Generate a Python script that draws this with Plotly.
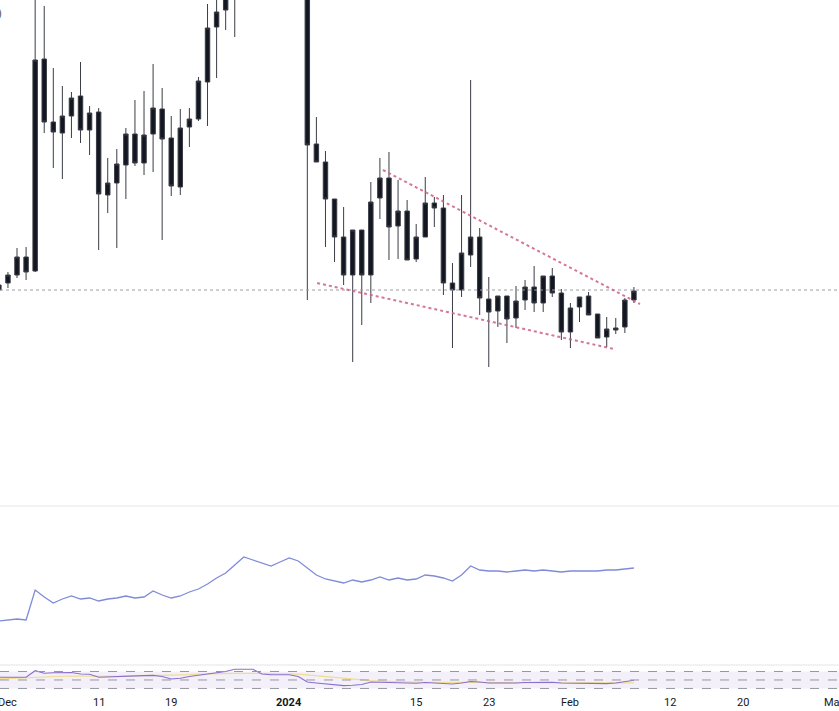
import pandas as pd
import plotly.graph_objects as go
from plotly.subplots import make_subplots

# ---------------- data ----------------
dates = pd.date_range("2023-11-30", periods=71, freq="D")

opens = [310, 317, 325, 343, 329, 541, 478, 467, 484, 504, 470, 488, 405, 417, 435, 466, 437, 466, 491, 462,
         413, 473, 481, 518, 573, 590, 620, 660, 670, 690, 680, 660, 675, 685, 625, 456, 438, 401, 363, 325,
         370, 325, 402, 422, 374, 389, 341, 363, 397, 392, 317, 310, 345, 363, 301, 289, 304, 282, 300, 313,
         297, 324, 307, 268, 293, 304, 286, 263, 270, 273, 300]
highs = [317, 328, 352, 353, 630, 594, 532, 514, 508, 538, 494, 492, 442, 451, 472, 500, 509, 536, 512, 484,
         491, 492, 523, 596, 610, 630, 680, 700, 720, 710, 695, 705, 715, 700, 640, 483, 449, 401, 393, 370,
         370, 418, 442, 448, 420, 400, 376, 423, 403, 405, 337, 405, 520, 372, 323, 304, 304, 314, 320, 334,
         324, 332, 311, 297, 303, 308, 286, 283, 282, 302, 313]
lows = [308, 312, 322, 320, 328, 467, 432, 421, 462, 457, 445, 350, 387, 352, 401, 434, 425, 428, 360, 404,
        405, 453, 479, 474, 522, 570, 563, 610, 620, 615, 605, 612, 620, 608, 300, 438, 353, 338, 315, 238,
        275, 297, 381, 340, 341, 340, 338, 363, 373, 305, 252, 303, 333, 285, 233, 273, 257, 272, 290, 288,
        288, 303, 260, 252, 278, 285, 262, 253, 266, 267, 297]
closes = [315, 325, 343, 328, 540, 478, 468, 484, 502, 470, 487, 406, 417, 436, 466, 437, 465, 492, 461, 414,
          472, 481, 519, 572, 588, 615, 660, 670, 690, 680, 660, 675, 685, 625, 455, 438, 401, 363, 325, 370,
          325, 398, 422, 373, 389, 340, 363, 397, 392, 317, 310, 347, 363, 302, 288, 304, 281, 299, 313, 297,
          324, 307, 268, 292, 303, 285, 262, 271, 272, 300, 309]

osc = [43, 44, 45, 44, 74, 67, 61, 65, 68, 65, 66, 63, 65, 66, 68, 66, 67, 73, 69, 66,
       68, 72, 75, 80, 86, 91, 99, 107, 104, 101, 98, 102, 106, 103, 96, 89, 85, 83, 81, 84,
       82, 84, 87, 84, 86, 84, 85, 89, 88, 86, 83, 89, 98, 94, 93, 93, 92, 93, 94, 93,
       94, 93, 92, 93, 93, 93, 93, 94, 94, 95, 96]

rsi = [56.4, 57, 57.5, 56.4, 71.9, 65.8, 67, 67.9, 67.6, 64.1, 63.4, 56.4, 57.5, 58.5, 59.4, 59.9, 60.4, 60.8,
       58.2, 52.4, 54.2, 58.2, 61, 65.3, 67.6, 70, 75.2, 75.9, 75.2, 64.1, 62.2, 62.5, 62.5, 58.2, 45.3, 42.9,
       41.1, 39.4, 36.6, 37.4, 39.4, 45.3, 45.3, 44.6, 43.6, 42.9, 42.2, 44.1, 42.9, 41.8, 40.6, 42.9, 46.5,
       45.3, 42.9, 42.9, 42.2, 42.9, 44.1, 44.6, 45.3, 44.6, 42.9, 42.5, 42.9, 42.9, 41.8, 41.5, 42.9, 46.5, 49.3]
rsi_ma = [52.4, 53.5, 54.5, 55.5, 56.4, 57.3, 58, 58.8, 59.4, 59.2, 58.8, 58.2, 57.8, 58.5, 59.5, 60.4,
          61, 61, 61, 61, 61.5, 62.5, 64, 64.8, 65.3, 65.8, 65.8, 65.8, 65.8, 65.8, 65.5, 65,
          64.5, 64, 62, 59.4, 57, 55, 53, 51, 49.5, 48.4, 47.5, 46.5, 45.8, 45.3, 45, 44.6,
          44.3, 44.1, 44, 43.9, 43.9, 43.8, 43.8, 43.7, 43.6, 43.5, 43.5, 43.4, 43.4, 43.3, 43.2, 43.2,
          43.1, 43, 43, 42.9, 42.9, 43, 43.2]
rsi_levels = [70, 50, 30]

tick_dates = ["2023-12-01", "2023-12-11", "2023-12-19", "2024-01-01", "2024-01-15",
              "2024-01-23", "2024-02-01", "2024-02-12", "2024-02-20", "2024-03-01"]
tick_labels = ["Dec", "11", "19", "<b>2024</b>", "15", "23", "Feb", "12", "20", "Mar"]

last_price = 310
upper_trend = [("2024-01-11 08:00", 430), ("2024-02-08 16:00", 296)]
lower_trend = [("2024-01-04 02:00", 317), ("2024-02-05 19:00", 251)]

x_range = ["2023-11-30 03:00", "2024-03-01 14:30"]

# ---------------- figure ----------------
W, H = 839, 711
mt, mb = 0, 20
ph = H - mt - mb


def pfrac(px):
    return 1 - px / ph


fig = make_subplots(rows=3, cols=1, shared_xaxes=True, vertical_spacing=0)

candle_style = dict(line=dict(color="#3a3d45", width=1), fillcolor="#131722")
fig.add_trace(go.Candlestick(x=dates, open=opens, high=highs, low=lows, close=closes,
                             increasing=candle_style, decreasing=candle_style,
                             whiskerwidth=0, showlegend=False, hoverinfo="skip"), row=1, col=1)

fig.add_trace(go.Scatter(x=dates, y=osc, mode="lines", line=dict(color="#7f8bd8", width=1.3),
                         showlegend=False, hoverinfo="skip"), row=2, col=1)

fig.add_trace(go.Scatter(x=dates, y=rsi_ma, mode="lines", line=dict(color="#f2dc8f", width=1.2),
                         showlegend=False, hoverinfo="skip"), row=3, col=1)
fig.add_trace(go.Scatter(x=dates, y=rsi, mode="lines", line=dict(color="#8a6fcf", width=1.1),
                         showlegend=False, hoverinfo="skip"), row=3, col=1)

shapes = []
# current price dotted line
shapes.append(dict(type="line", xref="paper", x0=0, x1=1, yref="y", y0=last_price, y1=last_price,
                   line=dict(color="#9a9ea6", width=1, dash="dot")))
# trend lines
for tl in (upper_trend, lower_trend):
    shapes.append(dict(type="line", xref="x", yref="y", x0=tl[0][0], y0=tl[0][1], x1=tl[1][0], y1=tl[1][1],
                       line=dict(color="rgba(205,95,135,0.85)", width=2, dash="dot")))
# pane separators
for px in (506, 665):
    shapes.append(dict(type="line", xref="paper", x0=0, x1=1, yref="paper", y0=pfrac(px), y1=pfrac(px),
                       line=dict(color="#e3e5ea", width=1)))
# RSI band
shapes.append(dict(type="rect", xref="paper", x0=0, x1=1, yref="y3", y0=rsi_levels[2], y1=rsi_levels[0],
                   fillcolor="rgba(126,87,194,0.09)", line=dict(width=0), layer="below"))
for lv in rsi_levels:
    shapes.append(dict(type="line", xref="paper", x0=0, x1=1, yref="y3", y0=lv, y1=lv,
                       line=dict(color="#9598a1", width=1, dash="dash")))

annotations = [dict(text=")", xref="paper", yref="paper", x=3.5 / W, y=pfrac(13),
                    xanchor="right", yanchor="middle", showarrow=False,
                    font=dict(size=11, color="#50535e"))]
for d, t in zip(tick_dates, tick_labels):
    annotations.append(dict(text=t, xref="x3", yref="paper", x=d, y=0, xanchor="center",
                            yanchor="middle", yshift=-11, showarrow=False,
                            font=dict(size=11, color="#131722")))

fig.update_layout(
    width=W, height=H,
    margin=dict(l=0, r=0, t=mt, b=mb),
    paper_bgcolor="white", plot_bgcolor="white",
    shapes=shapes,
    annotations=annotations,
    showlegend=False,
    font=dict(family="Roboto, 'Open Sans', sans-serif", size=11, color="#131722"),
)

fig.update_xaxes(range=x_range, showgrid=False, zeroline=False, showline=False,
                 rangeslider_visible=False, showticklabels=False, ticks="")

fig.update_yaxes(showgrid=False, zeroline=False, showline=False, showticklabels=False, ticks="")
fig.update_layout(
    yaxis=dict(domain=[pfrac(505), 1], range=[95, 600]),
    yaxis2=dict(domain=[pfrac(664), pfrac(507)], range=[0, 157]),
    yaxis3=dict(domain=[0, pfrac(666)], range=[24, 83]),
)

fig.write_html("out.html", config={"displayModeBar": False})
